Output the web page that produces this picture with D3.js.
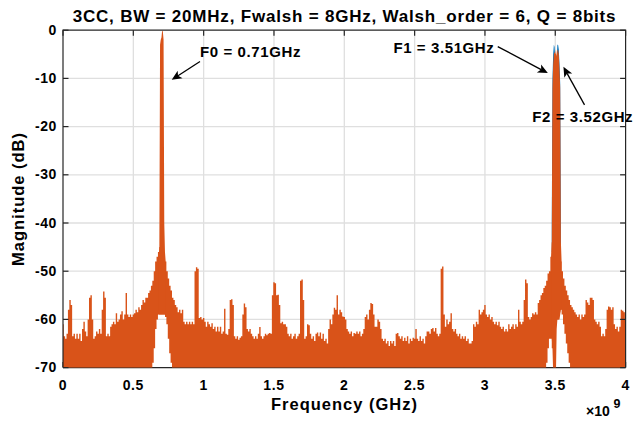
<!DOCTYPE html>
<html>
<head>
<meta charset="utf-8">
<script src="https://cdn.jsdelivr.net/npm/d3@7"></script>
<style>
  body { margin: 0; background: #fff; }
  text { font-family: "Liberation Sans", Arial, sans-serif; font-weight: bold; fill: #000; }
</style>
</head>
<body>
<svg id="chart" width="636" height="422"></svg>
<script>
// spectrum envelope (dB), sampled every 0.01 GHz from 0 to 4 GHz
var freqStep = 0.01;
var spectrumTop = [
  -61, -63.5, -64, -63, -58, -56, -57, -63.5, -63, -64,
  -63, -64, -63, -64.5, -62, -60.5, -62.5, -63.5, -60, -55.5,
  -55, -60, -64, -63.5, -62.5, -63, -62, -63, -58, -54.2,
  -55.5, -63.5, -63, -63.5, -61.5, -61, -60.5, -61, -58.7, -60.5,
  -60, -59, -58.3, -60, -59, -54.5, -59, -59.5, -59, -59.5,
  -59, -58.7, -58, -58.5, -57.5, -58, -57, -56, -56.5, -55.5,
  -55.5, -54.5, -54, -53, -52, -50, -48, -47, -46, -45,
  -45, -45, -46, -48, -50, -51.5, -53, -54, -55.5, -56,
  -57, -57.5, -58.5, -58, -58.7, -58, -60.5, -61, -60.5, -61,
  -60.5, -61, -60.5, -61, -50, -49.2, -49.5, -59.7, -59.5, -60,
  -59.7, -60.5, -61.5, -60.5, -61, -61.5, -60.8, -62, -61.5, -62.5,
  -61.5, -62.5, -61.5, -63, -62.5, -57.8, -63, -63.2, -62, -56,
  -55.8, -57, -63.5, -64, -63.5, -64.2, -63.8, -63.5, -59, -56.7,
  -57.5, -62, -62.5, -62, -63, -63.5, -64, -63.5, -64, -63,
  -61.6, -63.5, -64, -63.5, -63, -63.3, -63, -62.8, -63, -55,
  -52.3, -52.5, -55, -54.9, -57, -60.8, -60.5, -61, -61, -61.5,
  -63, -63.5, -63, -64, -63.5, -63, -64, -63.5, -63, -52,
  -51.7, -56, -64, -63.5, -61, -61.2, -63, -64, -63.5, -64.5,
  -63, -62.7, -63.5, -62.7, -64, -63, -64.5, -64, -65, -62,
  -60, -61, -59, -57.6, -58, -55, -59, -58, -58.5, -59.4,
  -59.5, -60, -62, -62.5, -63, -62.5, -63.5, -62.8, -63, -62.5,
  -63, -62.5, -63.5, -63, -62, -59.5, -59, -60, -58, -56.6,
  -56.8, -59, -61.5, -61.5, -60, -60.5, -62, -64, -64.5, -64,
  -65, -64.5, -65.5, -64.5, -65, -64.5, -65.5, -63, -62.8, -63.5,
  -64, -63.5, -64.5, -63.8, -64.5, -63.5, -65, -64, -64.5, -63.8,
  -64, -62, -64, -64.5, -63.5, -64.5, -64, -65, -63.5, -62.5,
  -62.5, -63, -62, -61.8, -62.5, -61.8, -63, -63.5, -63, -49.5,
  -49, -59, -61.5, -60, -61, -60.5, -58.7, -62, -62.5, -62,
  -63, -63.5, -63, -64, -63.5, -64, -63.5, -64.5, -64, -65,
  -65, -64.5, -61, -61.5, -60.5, -61, -58, -59, -58.5, -58,
  -57, -59, -59.5, -59, -60, -59.5, -60.5, -61, -60.5, -61.2,
  -60.5, -61.5, -62, -61.5, -62.5, -62, -62.5, -61, -62, -61.5,
  -61, -62, -61, -61.5, -58, -60.5, -61, -60.5, -56, -51.7,
  -52.5, -59.5, -60, -59.5, -58.7, -59, -58.5, -59, -56.6, -56,
  -55, -54.5, -53.5, -53, -52, -50.5, -50, -47, -44, -42,
  -40, -40, -42, -45, -48, -50, -51.5, -53, -54, -55,
  -56, -57, -57.5, -58, -58.5, -59, -59.5, -59, -60, -59,
  -59.5, -59, -56, -56.5, -57, -55.5, -55.5, -56, -60, -60.5,
  -61, -60.5, -61.5, -63.5, -63, -63.5, -62, -58, -57.3, -57.5,
  -58, -57.5, -61, -62, -61.5, -62.5, -61.5, -58, -58.2, -58.5,
  -60
];

// lowest level reached by the trace near the two tones (empty notches)
var floorFreq = [0.64, 0.65, 0.66, 0.67, 0.68, 0.69, 0.70, 0.71, 0.72, 0.73, 0.74, 0.75, 0.76, 0.77,
                 3.44, 3.45, 3.46, 3.47, 3.48, 3.49, 3.50, 3.51, 3.52, 3.53, 3.54, 3.55, 3.56, 3.57, 3.58, 3.59, 3.60];
var floorDb = [-69, -66, -62, -60, -59, -59, -59, -59, -59, -59.5, -61, -64, -67, -69,
               -69, -66, -64, -64, -66, -62, -60, -60, -60, -58.5, -58, -59, -61, -63, -65, -67, -69];

// tone F0 (orange), fine sampling
var peak0Freq = [0.680, 0.685, 0.690, 0.695, 0.700, 0.705, 0.710, 0.715, 0.720, 0.725, 0.730];
var peak0Top  = [-47, -45, -3, -2, -1.5, 0, -0.3, -2, -40, -46, -48];
var peak0Low  = [-59, -59, -59, -59, -59, -59, -59, -59, -59, -59, -59];

// tones F1/F2 (orange)
var peak1Freq = [3.470, 3.475, 3.480, 3.485, 3.490, 3.495, 3.500, 3.505, 3.510, 3.515, 3.520, 3.525, 3.530, 3.535, 3.540, 3.545];
var peak1Top  = [-47, -44, -12, -7, -5, -4.5, -5, -4, -5.5, -4.2, -4, -5, -8, -12, -44, -48];
var peak1Low  = [-62, -64, -66, -71, -71, -71, -71, -71, -62, -60, -60, -60, -60, -59, -58, -58];

// first trace (blue), only visible around F1/F2
var blueFreq = [3.475, 3.480, 3.485, 3.490, 3.495, 3.500, 3.505, 3.510, 3.515, 3.520, 3.525, 3.530, 3.535, 3.540];
var blueTop  = [-40, -10, -5, -3, -3.5, -6, -5, -6, -3, -3, -4, -7, -11, -40];
var blueLow  = [-46, -46, -46, -46, -46, -46, -46, -46, -46, -46, -46, -46, -46, -46];

var xTicks = [0, 0.5, 1, 1.5, 2, 2.5, 3, 3.5, 4];
var xTickLabels = ["0", "0.5", "1", "1.5", "2", "2.5", "3", "3.5", "4"];
var yTicks = [0, -10, -20, -30, -40, -50, -60, -70];
var yTickLabels = ["0", "-10", "-20", "-30", "-40", "-50", "-60", "-70"];

var titleText = "3CC, BW = 20MHz, Fwalsh = 8GHz, Walsh_order = 6, Q = 8bits";
var xLabel = "Frequency (GHz)";
var yLabel = "Magnitude (dB)";

// annotation text anchors and arrows, in data units (GHz, dB)
var notes = [
  {text: "F0 = 0.71GHz", tx: 0.974, ty: -5.5,  ax0: 0.974, ay0: -6.5,  ax1: 0.773, ay1: -10.3},
  {text: "F1 = 3.51GHz", tx: 2.349, ty: -4.7,  ax0: 3.091, ay0: -3.4,  ax1: 3.447, ay1: -8.9},
  {text: "F2 = 3.52GHz", tx: 3.336, ty: -19.0, ax0: 3.708, ay0: -15.5, ax1: 3.558, ay1: -7.6}
];

var orange = "#D95319", blue = "#0072BD", axisColor = "#262626", gridColor = "#dfdfdf";

var svg = d3.select("#chart");
var x = d3.scaleLinear().domain([0, 4]).range([63, 625.6]);
var y = d3.scaleLinear().domain([-70, 0]).range([367.6, 30.2]);

svg.append("defs").append("clipPath").attr("id", "plotclip")
  .append("rect")
  .attr("x", x(0)).attr("y", y(0))
  .attr("width", x(4) - x(0)).attr("height", y(-70) - y(0));

// grid
var grid = svg.append("g");
grid.selectAll(".gx").data(xTicks.slice(1, -1)).enter().append("line")
  .attr("x1", function(d) { return x(d); }).attr("x2", function(d) { return x(d); })
  .attr("y1", y(0)).attr("y2", y(-70))
  .attr("stroke", gridColor).attr("stroke-width", 1.3);
grid.selectAll(".gy").data(yTicks.slice(1, -1)).enter().append("line")
  .attr("y1", function(d) { return y(d); }).attr("y2", function(d) { return y(d); })
  .attr("x1", x(0)).attr("x2", x(4))
  .attr("stroke", gridColor).attr("stroke-width", 1.3);

// bottom axis goes under the trace
var bottom = svg.append("g");
bottom.append("line").attr("x1", x(0)).attr("x2", x(4)).attr("y1", y(-70)).attr("y2", y(-70))
  .attr("stroke", axisColor).attr("stroke-width", 1.2);
bottom.selectAll(".bt").data(xTicks).enter().append("line")
  .attr("x1", function(d) { return x(d); }).attr("x2", function(d) { return x(d); })
  .attr("y1", y(-70)).attr("y2", y(-70) - 5.5)
  .attr("stroke", axisColor).attr("stroke-width", 1.2);

// traces
var plot = svg.append("g").attr("clip-path", "url(#plotclip)");
var area = d3.area()
  .x(function(d) { return x(d.f); })
  .y0(function(d) { return y(d.low); })
  .y1(function(d) { return y(d.top); });

function zipPeak(fs, tops, lows) {
  return fs.map(function(f, i) { return {f: f, top: tops[i], low: lows[i]}; });
}

plot.append("path").datum(zipPeak(blueFreq, blueTop, blueLow))
  .attr("fill", blue).attr("d", area);

var floorLookup = new Map(floorFreq.map(function(f, i) { return [Math.round(f * 100), floorDb[i]]; }));
var mainData = spectrumTop.map(function(v, i) {
  return {f: i * freqStep, top: v, low: floorLookup.has(i) ? floorLookup.get(i) : -72};
});
plot.append("path").datum(mainData)
  .attr("fill", orange).attr("d", area.curve(d3.curveStep));
area.curve(d3.curveLinear);

plot.append("path").datum(zipPeak(peak0Freq, peak0Top, peak0Low))
  .attr("fill", orange).attr("d", area);
plot.append("path").datum(zipPeak(peak1Freq, peak1Top, peak1Low))
  .attr("fill", orange).attr("d", area);

// box: left, top, right lines with inward ticks
var box = svg.append("g").attr("stroke", axisColor).attr("stroke-width", 1.2);
box.append("path").attr("fill", "none")
  .attr("d", "M" + x(0) + "," + y(-70) + "V" + y(0) + "H" + x(4) + "V" + y(-70));
box.selectAll(".tt").data(xTicks).enter().append("line")
  .attr("x1", function(d) { return x(d); }).attr("x2", function(d) { return x(d); })
  .attr("y1", y(0)).attr("y2", y(0) + 5.5);
box.selectAll(".lt").data(yTicks).enter().append("line")
  .attr("y1", function(d) { return y(d); }).attr("y2", function(d) { return y(d); })
  .attr("x1", x(0)).attr("x2", x(0) + 5.5);
box.selectAll(".rt").data(yTicks).enter().append("line")
  .attr("y1", function(d) { return y(d); }).attr("y2", function(d) { return y(d); })
  .attr("x1", x(4)).attr("x2", x(4) - 5.5);

// tick labels
svg.append("g").selectAll("text").data(xTicks).enter().append("text")
  .attr("x", function(d) { return x(d); }).attr("y", 390)
  .attr("text-anchor", "middle").style("font-size", "14px").style("letter-spacing", "0.6px")
  .text(function(d, i) { return xTickLabels[i]; });
svg.append("g").selectAll("text").data(yTicks).enter().append("text")
  .attr("x", 57).attr("y", function(d) { return y(d) + 4.5; })
  .attr("text-anchor", "end").style("font-size", "14px").style("letter-spacing", "0.6px")
  .text(function(d, i) { return yTickLabels[i]; });

// exponent
svg.append("text").attr("x", 586).attr("y", 416).style("font-size", "14px").text("\u00d710");
svg.append("text").attr("x", 613.5).attr("y", 408).style("font-size", "12.5px").text("9");

// title and axis labels
svg.append("text").attr("x", 344.5).attr("y", 21.5).attr("text-anchor", "middle")
  .style("font-size", "17px").style("letter-spacing", "0.8px").text(titleText);
svg.append("text").attr("x", 344.5).attr("y", 410).attr("text-anchor", "middle")
  .style("font-size", "16.5px").style("letter-spacing", "1px").text(xLabel);
svg.append("text").attr("transform", "translate(24,199) rotate(-90)").attr("text-anchor", "middle")
  .style("font-size", "16.5px").style("letter-spacing", "1px").text(yLabel);

// annotations
var ann = svg.append("g");
notes.forEach(function(n) {
  ann.append("text").attr("x", x(n.tx)).attr("y", y(n.ty))
    .style("font-size", "15px").style("letter-spacing", "0.6px").text(n.text);
  var x0 = x(n.ax0), y0 = y(n.ay0), x1 = x(n.ax1), y1 = y(n.ay1);
  var ang = Math.atan2(y1 - y0, x1 - x0);
  var len = 10, hw = 4.5;
  var bx = x1 - len * Math.cos(ang), by = y1 - len * Math.sin(ang);
  var nx = x1 - 0.75 * len * Math.cos(ang), ny = y1 - 0.75 * len * Math.sin(ang);
  ann.append("line").attr("x1", x0).attr("y1", y0).attr("x2", nx).attr("y2", ny)
    .attr("stroke", "#000").attr("stroke-width", 1.3);
  ann.append("path").attr("fill", "#000")
    .attr("d", "M" + x1 + "," + y1 +
      "L" + (bx - hw * Math.sin(ang)) + "," + (by + hw * Math.cos(ang)) +
      "L" + nx + "," + ny +
      "L" + (bx + hw * Math.sin(ang)) + "," + (by - hw * Math.cos(ang)) + "Z");
});
</script>
</body>
</html>
